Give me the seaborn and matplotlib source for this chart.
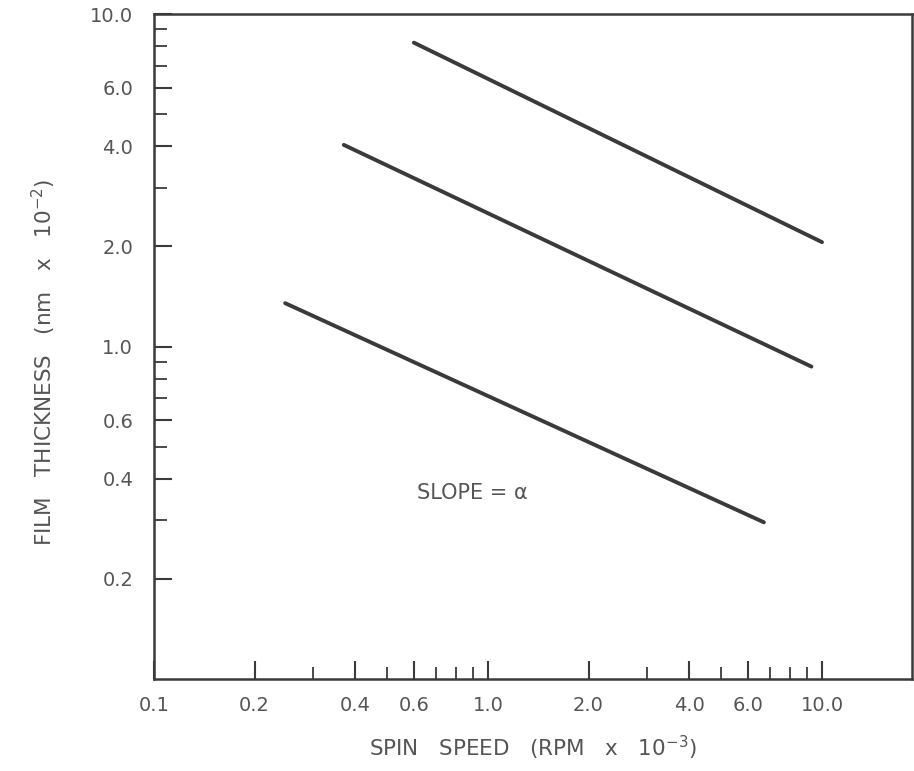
import numpy as np
import pandas as pd
import seaborn as sns
import matplotlib.pyplot as plt
import matplotlib.ticker as ticker

# spin speed (RPM x 1e-3) and film thickness (nm x 1e-2) at the ends of each line
rpm_top = [0.60, 10.0]
thick_top = [8.2, 2.06]
rpm_mid = [0.37, 9.3]
thick_mid = [4.04, 0.87]
rpm_low = [0.247, 6.7]
thick_low = [1.35, 0.296]

major_vals = [0.1, 0.2, 0.4, 0.6, 1.0, 2.0, 4.0, 6.0, 10.0]
major_labels = ["0.1", "0.2", "0.4", "0.6", "1.0", "2.0", "4.0", "6.0", "10.0"]
minor_vals = [0.3, 0.5, 0.7, 0.8, 0.9, 3.0, 5.0, 7.0, 8.0, 9.0]

df = pd.concat([
    pd.DataFrame({"rpm": rpm_top, "thick": thick_top, "curve": "top"}),
    pd.DataFrame({"rpm": rpm_mid, "thick": thick_mid, "curve": "mid"}),
    pd.DataFrame({"rpm": rpm_low, "thick": thick_low, "curve": "low"}),
])

sns.set_style("ticks")
plt.rcParams["font.family"] = ["DejaVu Sans"]

ink = "#3a3a3a"
txt = "#555555"

fig = plt.figure(figsize=(9.14, 7.71), dpi=100)
ax = fig.add_axes([154 / 914, 1 - 679 / 771, 758 / 914, 665 / 771])

sns.lineplot(
    data=df, x="rpm", y="thick", hue="curve",
    palette=[ink, ink, ink], linewidth=2.8,
    legend=False, ax=ax, estimator=None, sort=False,
)

ax.set_xscale("log")
ax.set_yscale("log")
ax.set_xlim(0.1, 18.6)
ax.set_ylim(0.1, 10.0)

# x ticks
ax.xaxis.set_major_locator(ticker.FixedLocator(major_vals))
ax.xaxis.set_major_formatter(ticker.FixedFormatter(major_labels))
ax.xaxis.set_minor_locator(ticker.FixedLocator(minor_vals))
ax.xaxis.set_minor_formatter(ticker.NullFormatter())

# y ticks (no 0.1 label on y)
ax.yaxis.set_major_locator(ticker.FixedLocator(major_vals[1:]))
ax.yaxis.set_major_formatter(ticker.FixedFormatter(major_labels[1:]))
ax.yaxis.set_minor_locator(ticker.FixedLocator(minor_vals))
ax.yaxis.set_minor_formatter(ticker.NullFormatter())

ax.tick_params(which="major", direction="in", length=13, width=1.5,
               color=ink, labelcolor=txt, labelsize=14)
ax.tick_params(axis="x", which="major", pad=12)
ax.tick_params(axis="y", which="major", pad=15)
ax.tick_params(which="minor", direction="in", length=9, width=1.3, color=ink)

for s in ax.spines.values():
    s.set_visible(True)
    s.set_color(ink)
    s.set_linewidth(1.8)

ax.set_xlabel(r"SPIN   SPEED   (RPM   x   $10^{-3}$)", fontsize=15.5,
              color=txt, labelpad=14)
ax.set_ylabel(r"FILM   THICKNESS   (nm   x   $10^{-2}$)", fontsize=15.5,
              color=txt)
ax.yaxis.set_label_coords(-0.127, 0.477)

ax.text(0.615, 0.363, "SLOPE = α", fontsize=15, color=txt,
        ha="left", va="center")

plt.savefig("out.png", dpi=100)
